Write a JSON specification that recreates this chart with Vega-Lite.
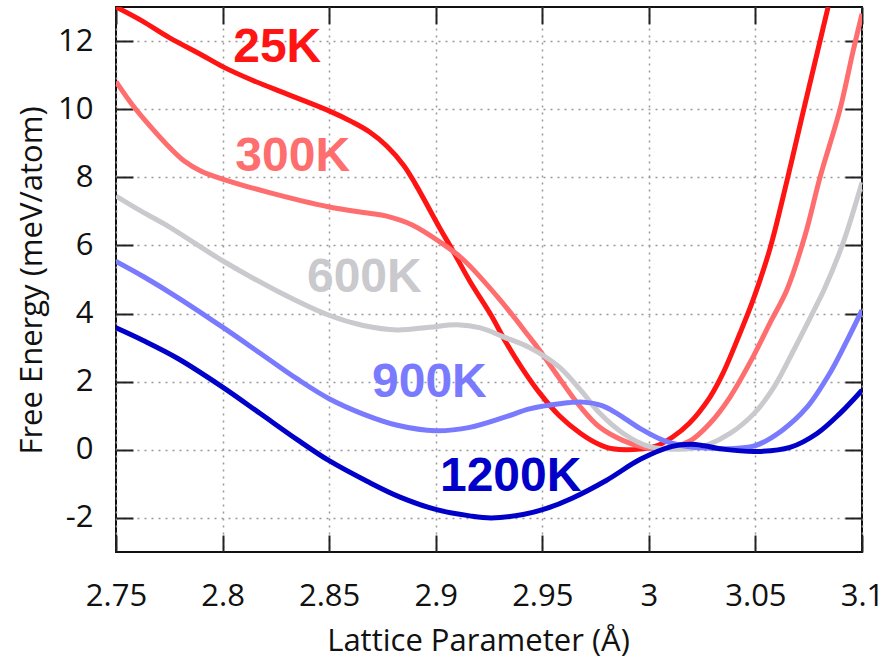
{
  "$schema": "https://vega.github.io/schema/vega-lite/v6.json",
  "width": 746,
  "height": 545,
  "autosize": {"type": "none"},
  "padding": {"left": 116, "top": 7, "right": 34, "bottom": 110},
  "background": "white",
  "config": {
    "view": {"stroke": "#111111", "strokeWidth": 2},
    "font": "Open Sans"
  },
  "datasets": {
    "curves": [
      {"T": "25K", "a": 2.75, "F": 13.0},
      {"T": "25K", "a": 2.762, "F": 12.6},
      {"T": "25K", "a": 2.775, "F": 12.1},
      {"T": "25K", "a": 2.79, "F": 11.6},
      {"T": "25K", "a": 2.8, "F": 11.25},
      {"T": "25K", "a": 2.814, "F": 10.85},
      {"T": "25K", "a": 2.83, "F": 10.45},
      {"T": "25K", "a": 2.85, "F": 9.95},
      {"T": "25K", "a": 2.861, "F": 9.62},
      {"T": "25K", "a": 2.869, "F": 9.33},
      {"T": "25K", "a": 2.877, "F": 8.92},
      {"T": "25K", "a": 2.885, "F": 8.35},
      {"T": "25K", "a": 2.8905, "F": 7.8},
      {"T": "25K", "a": 2.902, "F": 6.5},
      {"T": "25K", "a": 2.908, "F": 5.85},
      {"T": "25K", "a": 2.916, "F": 4.95},
      {"T": "25K", "a": 2.926, "F": 3.95},
      {"T": "25K", "a": 2.933, "F": 3.15},
      {"T": "25K", "a": 2.941, "F": 2.35},
      {"T": "25K", "a": 2.949, "F": 1.65},
      {"T": "25K", "a": 2.958, "F": 1.0},
      {"T": "25K", "a": 2.968, "F": 0.48},
      {"T": "25K", "a": 2.976, "F": 0.18},
      {"T": "25K", "a": 2.983, "F": 0.03},
      {"T": "25K", "a": 2.996, "F": 0.02},
      {"T": "25K", "a": 3.003, "F": 0.1},
      {"T": "25K", "a": 3.011, "F": 0.37},
      {"T": "25K", "a": 3.019, "F": 0.78},
      {"T": "25K", "a": 3.0287, "F": 1.55},
      {"T": "25K", "a": 3.0348, "F": 2.25},
      {"T": "25K", "a": 3.0428, "F": 3.43},
      {"T": "25K", "a": 3.0489, "F": 4.4},
      {"T": "25K", "a": 3.0568, "F": 5.9},
      {"T": "25K", "a": 3.0648, "F": 7.9},
      {"T": "25K", "a": 3.0723, "F": 9.9},
      {"T": "25K", "a": 3.0803, "F": 12.0},
      {"T": "25K", "a": 3.0841, "F": 13.0},

      {"T": "300K", "a": 2.75, "F": 10.81},
      {"T": "300K", "a": 2.758, "F": 10.1},
      {"T": "300K", "a": 2.766, "F": 9.5},
      {"T": "300K", "a": 2.774, "F": 8.95},
      {"T": "300K", "a": 2.782, "F": 8.48},
      {"T": "300K", "a": 2.79, "F": 8.18},
      {"T": "300K", "a": 2.8, "F": 7.95},
      {"T": "300K", "a": 2.822, "F": 7.55},
      {"T": "300K", "a": 2.85, "F": 7.13},
      {"T": "300K", "a": 2.868, "F": 6.95},
      {"T": "300K", "a": 2.877, "F": 6.86},
      {"T": "300K", "a": 2.889, "F": 6.6},
      {"T": "300K", "a": 2.902, "F": 6.1},
      {"T": "300K", "a": 2.913, "F": 5.58},
      {"T": "300K", "a": 2.929, "F": 4.49},
      {"T": "300K", "a": 2.944, "F": 3.31},
      {"T": "300K", "a": 2.949, "F": 2.9},
      {"T": "300K", "a": 2.958, "F": 2.1},
      {"T": "300K", "a": 2.968, "F": 1.25},
      {"T": "300K", "a": 2.977, "F": 0.66},
      {"T": "300K", "a": 2.988, "F": 0.27},
      {"T": "300K", "a": 2.998, "F": 0.07},
      {"T": "300K", "a": 3.006, "F": 0.03},
      {"T": "300K", "a": 3.019, "F": 0.25},
      {"T": "300K", "a": 3.0287, "F": 0.78},
      {"T": "300K", "a": 3.0381, "F": 1.55},
      {"T": "300K", "a": 3.0489, "F": 2.73},
      {"T": "300K", "a": 3.0568, "F": 3.72},
      {"T": "300K", "a": 3.0648, "F": 4.7},
      {"T": "300K", "a": 3.0733, "F": 6.3},
      {"T": "300K", "a": 3.0803, "F": 8.0},
      {"T": "300K", "a": 3.0897, "F": 10.0},
      {"T": "300K", "a": 3.0958, "F": 11.7},
      {"T": "300K", "a": 3.1, "F": 12.8},

      {"T": "600K", "a": 2.75, "F": 7.45},
      {"T": "600K", "a": 2.762, "F": 7.0},
      {"T": "600K", "a": 2.774, "F": 6.58},
      {"T": "600K", "a": 2.8, "F": 5.55},
      {"T": "600K", "a": 2.826, "F": 4.65},
      {"T": "600K", "a": 2.85, "F": 3.95},
      {"T": "600K", "a": 2.866, "F": 3.65},
      {"T": "600K", "a": 2.882, "F": 3.52},
      {"T": "600K", "a": 2.897, "F": 3.6},
      {"T": "600K", "a": 2.91, "F": 3.67},
      {"T": "600K", "a": 2.921, "F": 3.58},
      {"T": "600K", "a": 2.932, "F": 3.31},
      {"T": "600K", "a": 2.944, "F": 3.0},
      {"T": "600K", "a": 2.958, "F": 2.43},
      {"T": "600K", "a": 2.968, "F": 1.75},
      {"T": "600K", "a": 2.977, "F": 1.07},
      {"T": "600K", "a": 2.988, "F": 0.48},
      {"T": "600K", "a": 3.0, "F": 0.1},
      {"T": "600K", "a": 3.011, "F": 0.02},
      {"T": "600K", "a": 3.02, "F": 0.04},
      {"T": "600K", "a": 3.0273, "F": 0.14},
      {"T": "600K", "a": 3.0381, "F": 0.48},
      {"T": "600K", "a": 3.0494, "F": 1.07},
      {"T": "600K", "a": 3.0587, "F": 1.84},
      {"T": "600K", "a": 3.068, "F": 2.93},
      {"T": "600K", "a": 3.0775, "F": 4.1},
      {"T": "600K", "a": 3.0822, "F": 4.7},
      {"T": "600K", "a": 3.091, "F": 6.05},
      {"T": "600K", "a": 3.1, "F": 7.85},

      {"T": "900K", "a": 2.75, "F": 5.53},
      {"T": "900K", "a": 2.763, "F": 5.08},
      {"T": "900K", "a": 2.779, "F": 4.47},
      {"T": "900K", "a": 2.8, "F": 3.6},
      {"T": "900K", "a": 2.818, "F": 2.82},
      {"T": "900K", "a": 2.835, "F": 2.08},
      {"T": "900K", "a": 2.85, "F": 1.5},
      {"T": "900K", "a": 2.866, "F": 1.05},
      {"T": "900K", "a": 2.882, "F": 0.72},
      {"T": "900K", "a": 2.9, "F": 0.56},
      {"T": "900K", "a": 2.916, "F": 0.66},
      {"T": "900K", "a": 2.932, "F": 0.95},
      {"T": "900K", "a": 2.944, "F": 1.2},
      {"T": "900K", "a": 2.958, "F": 1.35},
      {"T": "900K", "a": 2.969, "F": 1.4},
      {"T": "900K", "a": 2.978, "F": 1.3},
      {"T": "900K", "a": 2.985, "F": 1.07},
      {"T": "900K", "a": 2.996, "F": 0.62},
      {"T": "900K", "a": 3.007, "F": 0.27},
      {"T": "900K", "a": 3.016, "F": 0.12},
      {"T": "900K", "a": 3.027, "F": 0.05},
      {"T": "900K", "a": 3.04, "F": 0.04},
      {"T": "900K", "a": 3.0503, "F": 0.13},
      {"T": "900K", "a": 3.0625, "F": 0.57},
      {"T": "900K", "a": 3.0742, "F": 1.25},
      {"T": "900K", "a": 3.0849, "F": 2.25},
      {"T": "900K", "a": 3.0929, "F": 3.2},
      {"T": "900K", "a": 3.1, "F": 4.1},

      {"T": "1200K", "a": 2.75, "F": 3.58},
      {"T": "1200K", "a": 2.763, "F": 3.2},
      {"T": "1200K", "a": 2.779, "F": 2.68},
      {"T": "1200K", "a": 2.8, "F": 1.84},
      {"T": "1200K", "a": 2.818, "F": 1.05},
      {"T": "1200K", "a": 2.835, "F": 0.3},
      {"T": "1200K", "a": 2.85, "F": -0.32},
      {"T": "1200K", "a": 2.868, "F": -0.93},
      {"T": "1200K", "a": 2.883, "F": -1.38},
      {"T": "1200K", "a": 2.9, "F": -1.75},
      {"T": "1200K", "a": 2.916, "F": -1.94},
      {"T": "1200K", "a": 2.926, "F": -2.0},
      {"T": "1200K", "a": 2.941, "F": -1.9},
      {"T": "1200K", "a": 2.952, "F": -1.72},
      {"T": "1200K", "a": 2.964, "F": -1.42},
      {"T": "1200K", "a": 2.98, "F": -0.9},
      {"T": "1200K", "a": 2.996, "F": -0.28},
      {"T": "1200K", "a": 3.011, "F": 0.1},
      {"T": "1200K", "a": 3.0193, "F": 0.16},
      {"T": "1200K", "a": 3.026, "F": 0.12},
      {"T": "1200K", "a": 3.0348, "F": 0.02},
      {"T": "1200K", "a": 3.0508, "F": -0.05},
      {"T": "1200K", "a": 3.0662, "F": 0.07},
      {"T": "1200K", "a": 3.0789, "F": 0.48},
      {"T": "1200K", "a": 3.0897, "F": 1.07},
      {"T": "1200K", "a": 3.1, "F": 1.75}
    ],
    "tags": [
      {"T": "25K", "a": 2.805, "F": 11.4},
      {"T": "300K", "a": 2.806, "F": 8.18},
      {"T": "600K", "a": 2.8396, "F": 4.64},
      {"T": "900K", "a": 2.8701, "F": 1.54},
      {"T": "1200K", "a": 2.902, "F": -1.2}
    ]
  },
  "layer": [
    {
      "data": {"name": "curves"},
      "mark": {"type": "line", "interpolate": "catmull-rom", "strokeWidth": 5, "clip": true},
      "encoding": {
        "x": {
          "field": "a",
          "type": "quantitative",
          "scale": {"domain": [2.75, 3.1], "nice": false, "zero": false},
          "axis": {
            "orient": "bottom",
            "values": [2.75, 2.8, 2.85, 2.9, 2.95, 3, 3.05, 3.1],
            "labelExpr": "'' + datum.value",
            "labelFont": "Open Sans",
            "labelFontSize": 31,
            "labelColor": "#111111",
            "labelPadding": 46,
            "labelFlush": false,
            "labelOverlap": false,
            "tickSize": -17,
            "tickWidth": 2,
            "tickColor": "#222222",
            "domain": false,
            "grid": true,
            "gridColor": "#999999",
            "gridDash": [2, 5],
            "gridWidth": 1.5,
            "title": "Lattice Parameter (Å)",
            "titleFont": "Open Sans",
            "titleFontSize": 31,
            "titleFontWeight": "normal",
            "titleColor": "#111111",
            "titleX": 362,
            "titleY": 98,
            "titleBaseline": "alphabetic"
          }
        },
        "y": {
          "field": "F",
          "type": "quantitative",
          "scale": {"domain": [-3, 13], "nice": false, "zero": false},
          "axis": {
            "orient": "left",
            "values": [-2, 0, 2, 4, 6, 8, 10, 12],
            "labelExpr": "'' + datum.value",
            "labelFont": "Open Sans",
            "labelFontSize": 31,
            "labelColor": "#111111",
            "labelPadding": 40,
            "labelFlush": false,
            "labelOverlap": false,
            "tickSize": -17,
            "tickWidth": 2,
            "tickColor": "#222222",
            "domain": false,
            "grid": true,
            "gridColor": "#999999",
            "gridDash": [2, 5],
            "gridWidth": 1.5,
            "title": "Free Energy (meV/atom)",
            "titleFont": "Open Sans",
            "titleFontSize": 31,
            "titleFontWeight": "normal",
            "titleColor": "#111111",
            "titleAngle": 270,
            "titleX": -75,
            "titleY": 273,
            "titleAlign": "center",
            "titleBaseline": "alphabetic"
          }
        },
        "color": {
          "field": "T",
          "type": "nominal",
          "scale": {
            "domain": ["25K", "300K", "600K", "900K", "1200K"],
            "range": ["#ff1414", "#ff6e6e", "#c9c9ce", "#7a7aff", "#0000c8"]
          },
          "legend": null
        }
      }
    },
    {
      "data": {"name": "tags"},
      "mark": {"type": "text", "font": "Liberation Sans", "fontWeight": "bold", "fontSize": 48, "align": "left", "baseline": "alphabetic"},
      "encoding": {
        "x": {
          "field": "a",
          "type": "quantitative",
          "scale": {"domain": [2.75, 3.1], "nice": false, "zero": false},
          "axis": {
            "orient": "top",
            "values": [2.75, 2.8, 2.85, 2.9, 2.95, 3, 3.05, 3.1],
            "labels": false,
            "tickSize": -17,
            "tickWidth": 2,
            "tickColor": "#222222",
            "domain": false,
            "grid": false,
            "title": null
          }
        },
        "y": {
          "field": "F",
          "type": "quantitative",
          "scale": {"domain": [-3, 13], "nice": false, "zero": false},
          "axis": {
            "orient": "right",
            "values": [-2, 0, 2, 4, 6, 8, 10, 12],
            "labels": false,
            "tickSize": -17,
            "tickWidth": 2,
            "tickColor": "#222222",
            "domain": false,
            "grid": false,
            "title": null
          }
        },
        "text": {"field": "T"},
        "color": {"field": "T", "type": "nominal", "legend": null}
      }
    }
  ],
  "resolve": {"scale": {"x": "independent", "y": "independent"}}
}
